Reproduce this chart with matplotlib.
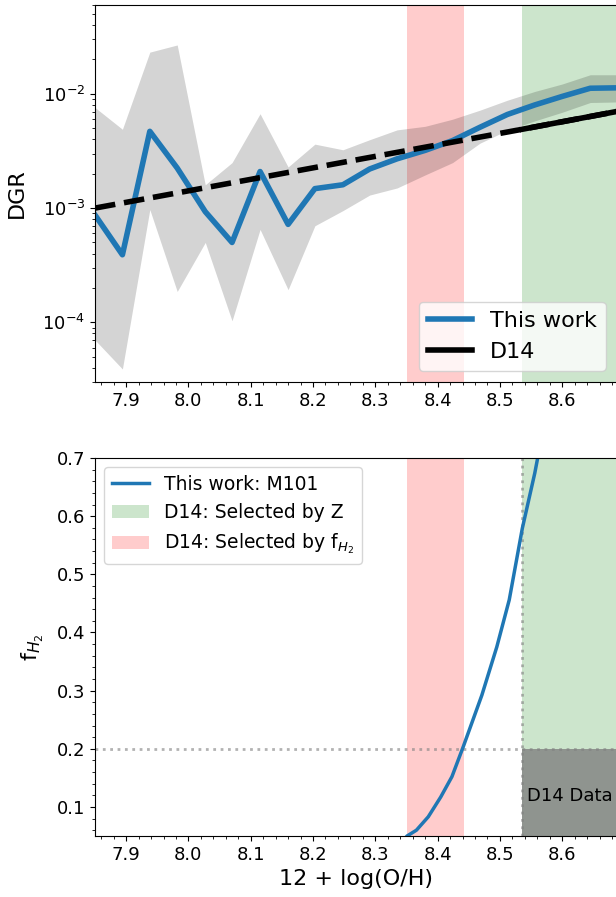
# DGR and molecular gas fraction against metallicity, compared with D14
import matplotlib.pyplot as plt
from matplotlib.lines import Line2D
from matplotlib.patches import Patch

# metallicity bins and the dust-to-gas ratio in each bin
oh_bins = [7.850, 7.894, 7.938, 7.982, 8.027, 8.070, 8.115, 8.160, 8.203, 8.248,
           8.291, 8.335, 8.380, 8.424, 8.468, 8.512, 8.556, 8.600, 8.645, 8.690]
dgr_med = [8.7e-4, 3.9e-4, 4.7e-3, 2.24e-3, 9.3e-4, 5.0e-4, 2.09e-3, 7.2e-4, 1.48e-3, 1.6e-3,
           2.2e-3, 2.7e-3, 3.2e-3, 3.9e-3, 5.1e-3, 6.6e-3, 8.0e-3, 9.5e-3, 1.12e-2, 1.13e-2]
dgr_hi = [7.6e-3, 4.9e-3, 2.32e-2, 2.68e-2, 1.6e-3, 2.5e-3, 6.7e-3, 2.29e-3, 3.63e-3, 3.24e-3,
          3.97e-3, 4.84e-3, 5.2e-3, 6.0e-3, 7.2e-3, 8.8e-3, 1.05e-2, 1.22e-2, 1.47e-2, 1.47e-2]
dgr_lo = [7.0e-5, 3.9e-5, 9.7e-4, 1.86e-4, 5.0e-4, 1.03e-4, 6.5e-4, 1.93e-4, 7.0e-4, 9.5e-4,
          1.3e-3, 1.5e-3, 1.95e-3, 2.5e-3, 3.7e-3, 4.8e-3, 5.8e-3, 6.9e-3, 8.4e-3, 8.5e-3]

# D14 relation (dashed = extrapolated, solid = their metallicity range)
d14_oh = [7.850, 8.536, 8.690]
d14_dgr = [1.0e-3, 4.9e-3, 7.05e-3]

# selection windows of the D14 sample
d14_z_range = (8.536, 8.80)
d14_fh2_range = (8.351, 8.442)
d14_fh2_cut = 0.2

# molecular gas fraction of M101 against metallicity
fh2_oh = [8.335, 8.351, 8.366, 8.385, 8.405, 8.423, 8.441, 8.471, 8.495, 8.515,
          8.536, 8.556, 8.575]
fh2 = [0.030, 0.050, 0.060, 0.083, 0.117, 0.152, 0.203, 0.292, 0.375, 0.456,
       0.579, 0.674, 0.780]

W, H = 616, 897
fig = plt.figure(figsize=(W / 100, H / 100), dpi=100)
ax1 = fig.add_axes([95 / W, 1 - 382 / H, 522 / W, 377 / H])
ax2 = fig.add_axes([95 / W, 1 - 836 / H, 522 / W, 378 / H])

# top: DGR
ax1.axvspan(*d14_fh2_range, color='r', alpha=0.2, lw=0)
ax1.axvspan(*d14_z_range, color='g', alpha=0.2, lw=0)
ax1.fill_between(oh_bins, dgr_lo, dgr_hi, color='k', alpha=0.17, lw=0)
ax1.plot(oh_bins, dgr_med, color='tab:blue', lw=4, label='This work')
ax1.plot(d14_oh, d14_dgr, 'k--', lw=4)
ax1.plot(d14_oh[1:], d14_dgr[1:], 'k-', lw=4, label='D14')
ax1.set_yscale('log')
ax1.set_ylim(3.0e-5, 6.0e-2)
ax1.set_xlim(7.85, 8.688)
ax1.set_ylabel('DGR', fontsize=16, labelpad=11)
ax1.legend(loc='lower right', fontsize=16)

# bottom: f_H2
ax2.axvspan(*d14_z_range, color='g', alpha=0.2, lw=0)
ax2.axvspan(*d14_fh2_range, color='r', alpha=0.2, lw=0)
ax2.fill_between(d14_z_range, 0, d14_fh2_cut, color='gray', alpha=0.8, lw=0)
ax2.axhline(d14_fh2_cut, color='gray', ls=':', lw=2, alpha=0.6)
ax2.axvline(d14_z_range[0], color='gray', ls=':', lw=2, alpha=0.6)
ax2.plot(fh2_oh, fh2, color='tab:blue', lw=2.5)
ax2.text(d14_z_range[0] + 0.007, 0.118, 'D14 Data', fontsize=13, va='center')
ax2.set_xlim(7.85, 8.688)
ax2.set_ylim(0.05, 0.7)
ax2.set_xlabel('12 + log(O/H)', fontsize=16)
ax2.set_ylabel(r'f$_{H_2}$', fontsize=16, labelpad=8)

handles = [Line2D([], [], color='tab:blue', lw=2.5),
           Patch(color='g', alpha=0.2, lw=0),
           Patch(color='r', alpha=0.2, lw=0)]
labels = ['This work: M101', 'D14: Selected by Z', r'D14: Selected by f$_{H_2}$']
ax2.legend(handles, labels, loc='upper left', fontsize=13.5)

for ax in (ax1, ax2):
    ax.minorticks_on()
    ax.tick_params(labelsize=13)

fig.savefig('out.png', dpi=100)
